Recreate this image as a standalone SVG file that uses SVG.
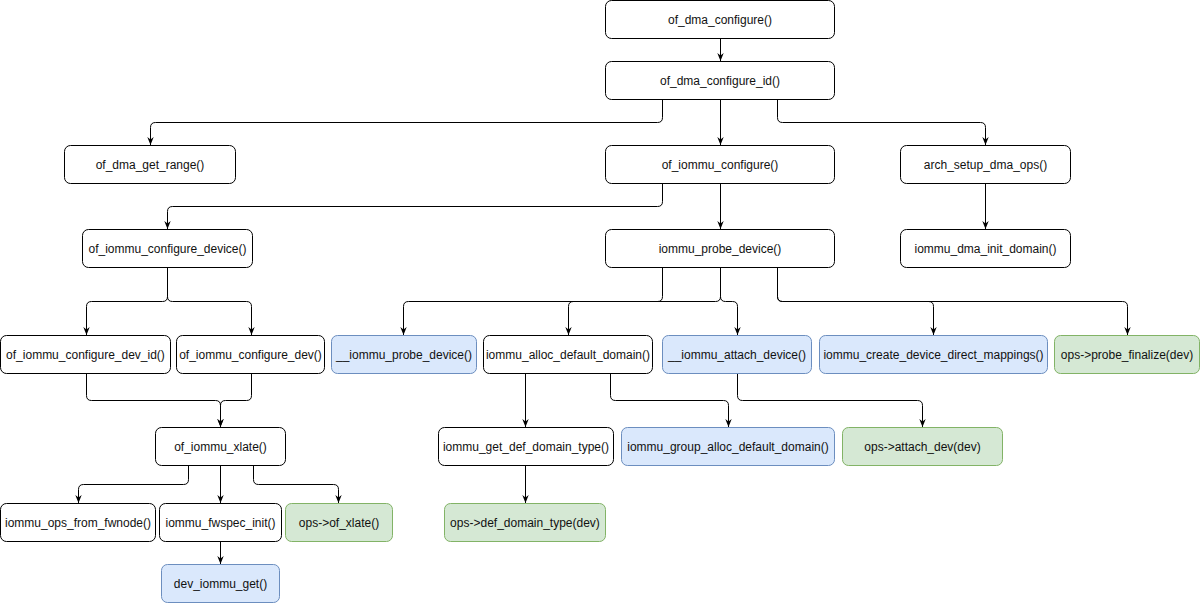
<svg xmlns="http://www.w3.org/2000/svg" width="1200" height="603" viewBox="0 0 1200 603">
<defs>
<marker id="arr" markerUnits="userSpaceOnUse" viewBox="0 0 10 10" refX="10" refY="5" markerWidth="8" markerHeight="8" orient="auto">
<path d="M0,1 L10,5 L0,9 L3,5 z" fill="#000"/>
</marker>
<style>
.n rect{fill:#fff;stroke:#000;stroke-width:1}
.b rect{fill:#dae8fc;stroke:#6c8ebf}
.g rect{fill:#d5e8d4;stroke:#82b366}
text{font-family:"Liberation Sans",Arial,Helvetica,sans-serif;font-size:12px;fill:#111;text-anchor:middle;dominant-baseline:central}
.e path{fill:none;stroke:#000;stroke-width:1;marker-end:url(#arr)}
</style>
</defs>
<rect width="1200" height="603" fill="#fff"/>
<g class="e" id="connectors" transform="translate(0.5,0.5)">
<path d="M720 38 V60.5"/>
<path d="M662 99 V117 Q662 122 657 122 H155 Q150 122 150 127 V144.5"/>
<path d="M720 99 V144.5"/>
<path d="M777 99 V117 Q777 122 782 122 H980 Q985 122 985 127 V144.5"/>
<path d="M662 183 V201 Q662 206 657 206 H172 Q167 206 167 211 V228.5"/>
<path d="M720 183 V228.5"/>
<path d="M985 183 V228.5"/>
<path d="M167 267 V296 Q167 301 162 301 H91 Q86 301 86 306 V334.5"/>
<path d="M167 267 V296 Q167 301 172 301 H246 Q251 301 251 306 V334.5"/>
<path d="M86 373 V395 Q86 400 91 400 H215 Q220 400 220 405 V426.5"/>
<path d="M251 373 V395 Q251 400 246 400 H225 Q220 400 220 405 V426.5"/>
<path d="M188 465 V479 Q188 484 183 484 H83 Q78 484 78 489 V502.5"/>
<path d="M220 465 V502.5"/>
<path d="M253 465 V479 Q253 484 258 484 H333 Q338 484 338 489 V502.5"/>
<path d="M220 541 V563.5"/>
<path d="M662 267 V296 Q662 301 657 301 H408 Q403 301 403 306 V334.5"/>
<path d="M720 267 V296 Q720 301 715 301 H573 Q568 301 568 306 V334.5"/>
<path d="M720 267 V296 Q720 301 725 301 H732 Q737 301 737 306 V334.5"/>
<path d="M777 267 V296 Q777 301 782 301 H928 Q933 301 933 306 V334.5"/>
<path d="M777 267 V296 Q777 301 782 301 H1122 Q1127 301 1127 306 V334.5"/>
<path d="M525 373 V426.5"/>
<path d="M610 373 V395 Q610 400 615 400 H723 Q728 400 728 405 V426.5"/>
<path d="M737 373 V395 Q737 400 742 400 H917 Q922 400 922 405 V426.5"/>
<path d="M525 465 V502.5"/>
</g>
<g id="n1" class="n"><rect x="605.5" y="0.5" width="229" height="38" rx="6"/><text x="720" y="19.5">of_dma_configure()</text></g>
<g id="n2" class="n"><rect x="605.5" y="61.5" width="229" height="38" rx="6"/><text x="720" y="80.5">of_dma_configure_id()</text></g>
<g id="n3" class="n"><rect x="64.5" y="145.5" width="171" height="38" rx="6"/><text x="150" y="164.5">of_dma_get_range()</text></g>
<g id="n4" class="n"><rect x="605.5" y="145.5" width="229" height="38" rx="6"/><text x="720" y="164.5">of_iommu_configure()</text></g>
<g id="n5" class="n"><rect x="900.5" y="145.5" width="170" height="38" rx="6"/><text x="985.5" y="164.5">arch_setup_dma_ops()</text></g>
<g id="n6" class="n"><rect x="82.5" y="229.5" width="170" height="38" rx="6"/><text x="167.5" y="248.5">of_iommu_configure_device()</text></g>
<g id="n7" class="n"><rect x="605.5" y="229.5" width="229" height="38" rx="6"/><text x="720" y="248.5">iommu_probe_device()</text></g>
<g id="n8" class="n"><rect x="900.5" y="229.5" width="170" height="38" rx="6"/><text x="985.5" y="248.5">iommu_dma_init_domain()</text></g>
<g id="n9" class="n"><rect x="0.5" y="335.5" width="170" height="38" rx="6"/><text x="85.5" y="354.5">of_iommu_configure_dev_id()</text></g>
<g id="n10" class="n"><rect x="176.5" y="335.5" width="148" height="38" rx="6"/><text x="250.5" y="354.5">of_iommu_configure_dev()</text></g>
<g id="n11" class="n b"><rect x="331.5" y="335.5" width="145" height="38" rx="6"/><text x="404" y="354.5">__iommu_probe_device()</text></g>
<g id="n12" class="n"><rect x="483.5" y="335.5" width="169" height="38" rx="6"/><text x="568" y="354.5">iommu_alloc_default_domain()</text></g>
<g id="n13" class="n b"><rect x="662.5" y="335.5" width="149" height="38" rx="6"/><text x="737" y="354.5">__iommu_attach_device()</text></g>
<g id="n14" class="n b"><rect x="819.5" y="335.5" width="228" height="38" rx="6"/><text x="933.5" y="354.5">iommu_create_device_direct_mappings()</text></g>
<g id="n15" class="n g"><rect x="1054.5" y="335.5" width="145" height="38" rx="6"/><text x="1127" y="354.5">ops-&gt;probe_finalize(dev)</text></g>
<g id="n16" class="n"><rect x="155.5" y="427.5" width="130" height="38" rx="6"/><text x="220.5" y="446.5">of_iommu_xlate()</text></g>
<g id="n17" class="n"><rect x="438.5" y="427.5" width="175" height="38" rx="6"/><text x="526" y="446.5">iommu_get_def_domain_type()</text></g>
<g id="n18" class="n b"><rect x="621.5" y="427.5" width="213" height="38" rx="6"/><text x="728" y="446.5">iommu_group_alloc_default_domain()</text></g>
<g id="n19" class="n g"><rect x="842.5" y="427.5" width="160" height="38" rx="6"/><text x="922.5" y="446.5">ops-&gt;attach_dev(dev)</text></g>
<g id="n20" class="n"><rect x="0.5" y="503.5" width="155" height="38" rx="6"/><text x="78" y="522.5">iommu_ops_from_fwnode()</text></g>
<g id="n21" class="n"><rect x="159.5" y="503.5" width="122" height="38" rx="6"/><text x="220.5" y="522.5">iommu_fwspec_init()</text></g>
<g id="n22" class="n g"><rect x="285.5" y="503.5" width="107" height="38" rx="6"/><text x="339" y="522.5">ops-&gt;of_xlate()</text></g>
<g id="n23" class="n g"><rect x="444.5" y="503.5" width="161" height="38" rx="6"/><text x="525" y="522.5">ops-&gt;def_domain_type(dev)</text></g>
<g id="n24" class="n b"><rect x="161.5" y="564.5" width="118" height="38" rx="6"/><text x="220.5" y="583.5">dev_iommu_get()</text></g>
</svg>
